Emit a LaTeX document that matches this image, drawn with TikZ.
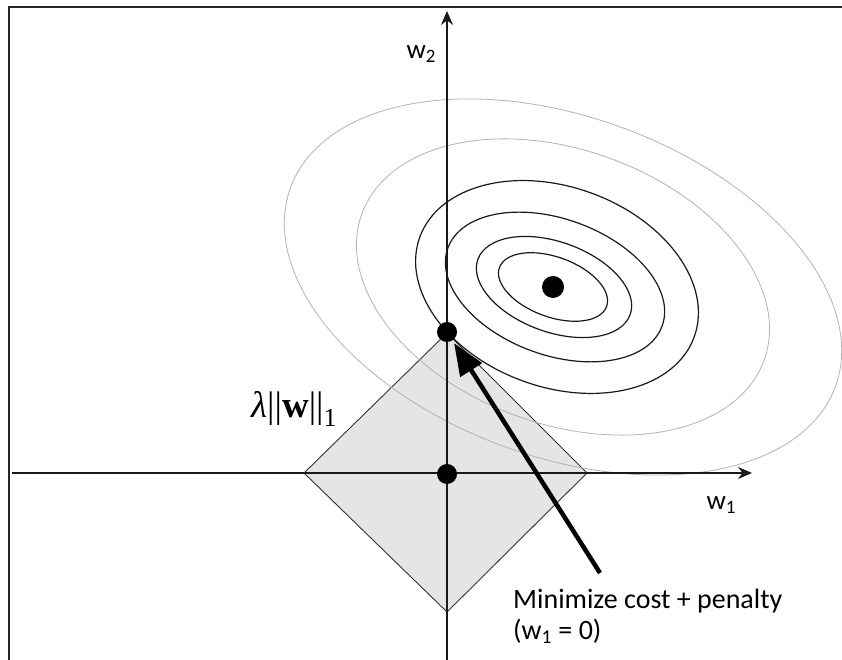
\documentclass[tikz,border=0pt]{standalone}
\usepackage{fontspec}
\setmainfont{Carlito}
\newfontfamily\serifa{Liberation Serif}
\usetikzlibrary{arrows.meta,positioning}
\definecolor{cinzaclaro}{RGB}{178,178,178}
\definecolor{cinzafundo}{RGB}{229,229,229}

\begin{document}
\begin{tikzpicture}[
	x=1pt, y=1pt,
	font=\fontsize{28}{31}\selectfont,
	eixo/.style={-{Stealth[length=14pt,width=12pt]}, line width=1.5pt, black!90},
	nivel/.style={line width=1.2pt, black!90},
	nivelclaro/.style={line width=0.8pt, cinzaclaro},
	losango/.style={draw=black!80, fill=cinzafundo, line width=0.9pt},
	ponto/.style={circle, fill=black, inner sep=0pt, minimum size=20pt},
	seta/.style={-{Triangle[length=32pt,width=25pt]}, line width=4.5pt, black, shorten >=3pt},
]
\useasboundingbox (0,0) rectangle (842,660);

% moldura
\draw[line width=1.5pt, black!85] (842,653) -- (9,653) -- (9,0);

% regiao da penalidade
\draw[losango] (304,187) -- (447,327) -- (587,187) -- (447,48) -- cycle;

% curvas de nivel do custo
\coordinate (c) at (553,373);
\foreach \cx/\a/\b in {563/290/170, 563/214/137}
	\draw[nivelclaro, rotate around={-20:(\cx,373)}] (\cx,373) ellipse ({\a pt} and {\b pt});
\foreach \cx/\a/\b in {557/146/100, 555/114/68, 554/81/45, 553/57/30}
	\draw[nivel, rotate around={-20:(\cx,373)}] (\cx,373) ellipse ({\a pt} and {\b pt});

% eixos
\coordinate (xini) at (12,187);
\coordinate (xfim) at (752,187);
\coordinate (yini) at (447,0);
\coordinate (yfim) at (447,649);
\draw[eixo] (xini) -- (xfim);
\draw[eixo] (yini) -- (yfim);

\node[ponto] (origem) at (447,186) {};
\node[ponto] (tang) at (447,328) {};
\node[ponto, minimum size=22pt] (minimo) at (c) {};

\node[anchor=base west, font=\fontsize{27}{30}\selectfont] (rw2) at (403,601) {w\textsubscript{2}};
\node[anchor=base west, font=\fontsize{27}{30}\selectfont] (rw1) at (703,150) {w\textsubscript{1}};
\node[anchor=base west, inner sep=0pt, font=\serifa\fontsize{37}{40}\selectfont] (rpen) at (251,242) {\textit{λ}||\textbf{w}||\textsubscript{1}};

\node[anchor=north west, inner sep=0pt, align=left] (rotulo) at (513,71) {Minimize cost + penalty\\(w\textsubscript{1} = 0)};

\coordinate (inicio) at (600,87);
\draw[seta] (inicio) -- (tang);
\end{tikzpicture}
\end{document}
